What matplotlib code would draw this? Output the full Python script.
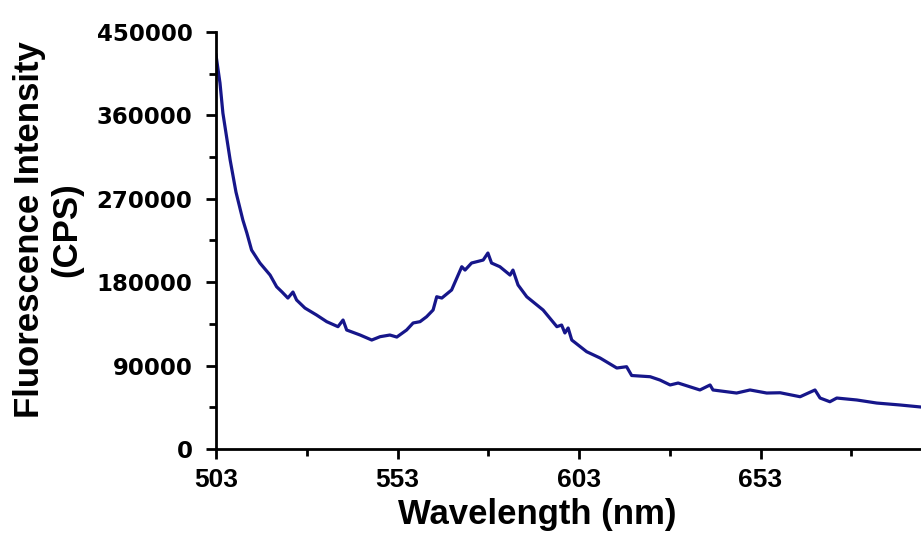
import matplotlib
matplotlib.use("Agg")
import matplotlib.pyplot as plt
from matplotlib.ticker import MultipleLocator

# Emission spectrum (wavelength in nm, intensity in counts per second)
wavelength = [503.0, 504.1, 504.9, 506.9, 508.5, 510.4, 511.5, 512.8, 515.1, 517.9, 519.7,
              521.2, 522.8, 524.2, 525.2, 527.5, 530.7, 533.5, 536.6, 538.0, 539.0,
              542.7, 545.9, 548.2, 550.9, 552.8, 555.5, 557.3, 559.2, 561.0, 562.8,
              563.8, 565.2, 567.9, 570.7, 571.6, 573.4, 576.6, 577.9, 578.9, 581.2,
              584.0, 584.8, 586.2, 588.6, 593.1, 596.9, 598.2, 599.1, 600.0, 601.0,
              605.1, 608.8, 613.4, 616.1, 617.5, 622.6, 625.3, 628.1, 630.3, 636.3,
              639.1, 639.9, 646.4, 650.1, 654.7, 658.4, 663.9, 668.0, 669.4, 672.1,
              674.0, 679.5, 685.0, 691.4, 697.2]
intensity = [425100, 394900, 362500, 311800, 277300, 247100, 233100, 214700, 200700, 187700, 175100,
             169400, 162900, 169400, 160800, 152100, 144600, 137400, 132000, 139200, 128400,
             123000, 117600, 121200, 123000, 120800, 128400, 136000, 137400, 142700, 150000,
             164300, 162900, 171600, 196700, 193100, 200700, 203900, 211500, 200700, 196700,
             187700, 193100, 177000, 164300, 150000, 132000, 133800, 125200, 130600, 117600,
             105000, 98200, 87400, 88800, 79300, 78000, 74400, 69100, 71200, 63700,
             69100, 63700, 60400, 63700, 60400, 60700, 56400, 63700, 55000, 51000,
             55000, 52900, 49600, 47500, 45300]

x_ticks = [503, 553, 603, 653]
y_ticks = [0, 90000, 180000, 270000, 360000, 450000]

fig = plt.figure(figsize=(9.21, 5.39), dpi=100)
ax = fig.add_axes([216 / 921, 90 / 539, 705 / 921, 417 / 539])

ax.plot(wavelength, intensity, color="#16168a", linewidth=2.3, solid_joinstyle="round")

ax.set_xlim(503, 697.2)
ax.set_ylim(0, 450000)
ax.set_xticks(x_ticks)
ax.xaxis.set_minor_locator(MultipleLocator(25, offset=3))
ax.set_yticks(y_ticks)
ax.yaxis.set_minor_locator(MultipleLocator(45000))

for side in ("top", "right"):
    ax.spines[side].set_visible(False)
for side in ("left", "bottom"):
    ax.spines[side].set_linewidth(2.0)
    ax.spines[side].set_color("black")

ax.tick_params(axis="both", which="major", direction="out", width=2.0, color="black")
ax.tick_params(axis="y", which="major", length=7, pad=10)
ax.tick_params(axis="y", which="minor", length=5, width=2.0)
ax.tick_params(axis="x", which="major", length=7, pad=7)
ax.tick_params(axis="x", which="minor", length=5, width=2.0)

for lab in ax.get_yticklabels():
    lab.set_fontfamily(["DejaVu Sans"])
    lab.set_fontweight("bold")
    lab.set_fontsize(16.5)
for lab in ax.get_xticklabels():
    lab.set_fontfamily(["Liberation Sans", "DejaVu Sans"])
    lab.set_fontweight("bold")
    lab.set_fontsize(19)

ax.set_xlabel("Wavelength (nm)", fontfamily=["Liberation Sans", "DejaVu Sans"],
              fontweight="bold", fontsize=25)
ax.xaxis.set_label_coords(0.455, -0.118)
ax.xaxis.label.set_va("top")

fig.text(48 / 921, 1 - 230 / 539, "Fluorescence Intensity\n(CPS)",
         rotation=90, ha="center", va="center", multialignment="center",
         fontfamily=["Liberation Sans", "DejaVu Sans"], fontweight="bold",
         fontsize=25, linespacing=1.15)

fig.savefig("out.png", dpi=100, facecolor="white")
